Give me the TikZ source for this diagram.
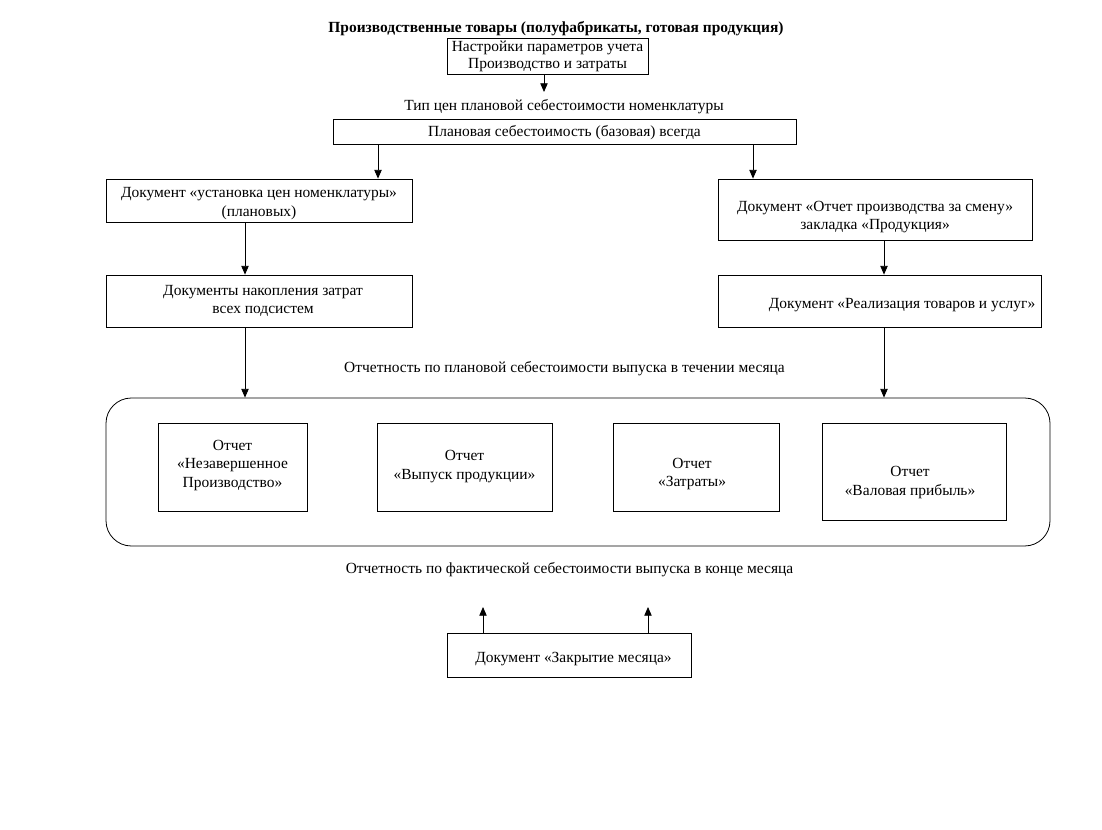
\documentclass[tikz,border=0pt]{standalone}
\usepackage{fontspec}
\setmainfont{Liberation Serif}
\usetikzlibrary{arrows.meta}
\begin{document}
\begin{tikzpicture}[x=0.75pt,y=-0.75pt,
  box/.style={draw,line width=0.6pt,inner sep=0pt,align=center,font=\fontsize{11.6}{13.8}\selectfont},
  txt/.style={inner sep=0pt,align=center,font=\fontsize{11.6}{13.8}\selectfont},
  arr/.style={line width=0.6pt,-{Triangle[length=6.5pt,width=5.5pt]}}]
\useasboundingbox (0,0) rectangle (1102,830);
\node[txt,font=\bfseries\fontsize{11.6}{13}\selectfont] (title) at (556,29) {Производственные товары (полуфабрикаты, готовая продукция)};
\node[box,minimum width=150.75pt,minimum height=27pt,font=\fontsize{11.6}{12.8}\selectfont] (b1) at (547.5,56) {Настройки параметров учета\\Производство и затраты};
\node[txt] (l1) at (564,107) {Тип цен плановой себестоимости номенклатуры};
\node[box,minimum width=347.25pt,minimum height=18.75pt] (b2) at (564.5,131.5) {};
\node[txt] (t2) at (564.5,133) {Плановая себестоимость (базовая) всегда};
\node[box,minimum width=229.5pt,minimum height=32.25pt] (b3) at (259,200.5) {};
\node[txt] (t3) at (259,203.5) {Документ «установка цен номенклатуры»\\(плановых)};
\node[box,minimum width=229.5pt,minimum height=39pt] (b4) at (259,301) {};
\node[txt] (t4) at (263,301) {Документы накопления затрат\\всех подсистем};
\node[box,minimum width=235.5pt,minimum height=45.75pt] (b5) at (875,209.5) {};
\node[txt] (t5) at (875,217) {Документ «Отчет производства за смену»\\закладка «Продукция»};
\node[box,minimum width=242.25pt,minimum height=39pt] (b6) at (879.5,301) {};
\node[txt] (t6) at (902,305) {Документ «Реализация товаров и услуг»};
\node[txt] (l2) at (564.5,369) {Отчетность по плановой себестоимости выпуска в течении месяца};
\node[box,rounded corners=19pt,minimum width=708pt,minimum height=111pt] (grp) at (578,472) {};
\node[box,minimum width=111.75pt,minimum height=66pt] (ra) at (232.5,467) {};
\node[txt] (ta) at (232.5,465.5) {Отчет\\«Незавершенное\\Производство»};
\node[box,minimum width=131.25pt,minimum height=66pt] (rb) at (464.5,467) {};
\node[txt] (tb) at (464.5,466.5) {Отчет\\«Выпуск продукции»};
\node[box,minimum width=124.5pt,minimum height=66pt] (rc) at (696,467) {};
\node[txt] (tc) at (692,474) {Отчет\\«Затраты»};
\node[box,minimum width=138pt,minimum height=72.75pt] (rd) at (914,471.5) {};
\node[txt] (td) at (910,482.5) {Отчет\\«Валовая прибыль»};
\node[txt] (l3) at (569.5,570) {Отчетность по фактической себестоимости выпуска в конце месяца};
\node[box,minimum width=183pt,minimum height=33pt] (b7) at (569,655) {};
\node[txt] (t7) at (573.5,659) {Документ «Закрытие месяца»};
\coordinate (c1) at (544,92);
\coordinate (x378) at (378,0);
\coordinate (x753) at (753,0);
\coordinate (x245) at (245,0);
\coordinate (x884) at (884,0);
\coordinate (u1) at (483,607);
\coordinate (u2) at (648,607);
\draw[arr] (b1.south -| c1) -- (c1);
\draw[arr] (b2.south -| x378) -- (b3.north -| x378);
\draw[arr] (b2.south -| x753) -- (b5.north -| x753);
\draw[arr] (b3.south -| x245) -- (b4.north -| x245);
\draw[arr] (b4.south -| x245) -- (grp.north -| x245);
\draw[arr] (b5.south -| x884) -- (b6.north -| x884);
\draw[arr] (b6.south -| x884) -- (grp.north -| x884);
\draw[arr] (b7.north -| u1) -- (u1);
\draw[arr] (b7.north -| u2) -- (u2);
\end{tikzpicture}
\end{document}
